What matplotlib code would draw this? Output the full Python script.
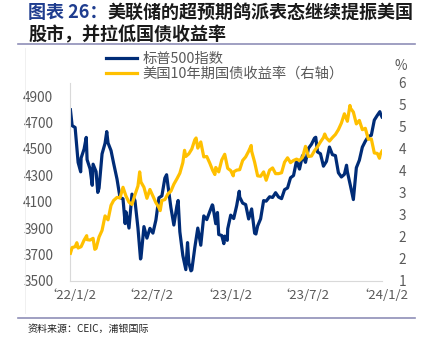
import math
import matplotlib
matplotlib.use("Agg")
import matplotlib.pyplot as plt
from matplotlib.lines import Line2D
from matplotlib.ticker import FixedLocator, FuncFormatter
import pandas as pd

plt.rcParams["font.family"] = ["Noto Sans CJK SC", "DejaVu Sans"]

# S&P 500 closes
spx_dates = [
    "2022-01-03", "2022-01-07", "2022-01-14", "2022-01-21", "2022-01-27", "2022-01-28",
    "2022-02-04", "2022-02-09", "2022-02-11", "2022-02-18", "2022-02-23", "2022-02-25",
    "2022-03-04", "2022-03-08", "2022-03-11", "2022-03-18", "2022-03-25", "2022-03-29",
    "2022-04-01", "2022-04-08", "2022-04-14", "2022-04-22", "2022-04-29", "2022-05-06",
    "2022-05-11", "2022-05-13", "2022-05-20", "2022-05-27", "2022-06-03", "2022-06-10",
    "2022-06-16", "2022-06-17", "2022-06-24", "2022-07-01", "2022-07-08", "2022-07-15",
    "2022-07-22", "2022-07-29", "2022-08-05", "2022-08-12", "2022-08-16", "2022-08-19",
    "2022-08-26", "2022-09-02", "2022-09-09", "2022-09-12", "2022-09-16", "2022-09-23",
    "2022-09-30", "2022-10-04", "2022-10-07", "2022-10-12", "2022-10-14", "2022-10-21",
    "2022-10-28", "2022-11-04", "2022-11-11", "2022-11-18", "2022-11-25", "2022-12-01",
    "2022-12-02", "2022-12-09", "2022-12-13", "2022-12-16", "2022-12-23", "2022-12-28",
    "2022-12-30", "2023-01-05", "2023-01-06", "2023-01-13", "2023-01-20", "2023-01-27",
    "2023-02-02", "2023-02-03", "2023-02-10", "2023-02-17", "2023-02-24", "2023-03-03",
    "2023-03-10", "2023-03-13", "2023-03-17", "2023-03-24", "2023-03-31", "2023-04-06",
    "2023-04-14", "2023-04-21", "2023-04-28", "2023-05-05", "2023-05-12", "2023-05-19",
    "2023-05-26", "2023-06-02", "2023-06-09", "2023-06-16", "2023-06-23", "2023-06-30",
    "2023-07-07", "2023-07-14", "2023-07-21", "2023-07-28", "2023-07-31", "2023-08-04",
    "2023-08-11", "2023-08-18", "2023-08-25", "2023-09-01", "2023-09-08", "2023-09-15",
    "2023-09-22", "2023-09-29", "2023-10-06", "2023-10-11", "2023-10-13", "2023-10-20",
    "2023-10-27", "2023-11-03", "2023-11-10", "2023-11-17", "2023-11-24", "2023-12-01",
    "2023-12-08", "2023-12-15", "2023-12-22", "2023-12-28", "2023-12-29", "2024-01-02",
]
spx_values = [
    4797, 4677, 4663, 4398, 4327, 4432,
    4500, 4588, 4419, 4349, 4225, 4385,
    4329, 4171, 4204, 4463, 4543, 4632,
    4546, 4488, 4393, 4272, 4132, 4123,
    3935, 4024, 3901, 4158, 4109, 3901,
    3667, 3675, 3912, 3825, 3899, 3863,
    3962, 4130, 4145, 4280, 4305, 4228,
    4058, 3924, 4067, 4110, 3873, 3693,
    3586, 3791, 3639, 3577, 3583, 3753,
    3901, 3771, 3993, 3965, 4026, 4077,
    4072, 3934, 4019, 3852, 3845, 3783,
    3840, 3808, 3895, 3999, 3973, 4071,
    4180, 4136, 4090, 4079, 3970, 4046,
    3862, 3856, 3917, 3971, 4109, 4105,
    4138, 4133, 4169, 4136, 4124, 4192,
    4205, 4282, 4299, 4410, 4348, 4450,
    4399, 4505, 4536, 4582, 4589, 4478,
    4464, 4370, 4406, 4515, 4457, 4450,
    4320, 4288, 4308, 4377, 4327, 4224,
    4117, 4358, 4415, 4514, 4559, 4595,
    4604, 4719, 4755, 4783, 4770, 4743,
]

# US 10-year Treasury yield, %
ust_dates = [
    "2022-01-03", "2022-01-07", "2022-01-14", "2022-01-18", "2022-01-21", "2022-01-28",
    "2022-02-04", "2022-02-10", "2022-02-11", "2022-02-18", "2022-02-25", "2022-03-01",
    "2022-03-04", "2022-03-11", "2022-03-18", "2022-03-25", "2022-04-01", "2022-04-08",
    "2022-04-14", "2022-04-22", "2022-04-29", "2022-05-06", "2022-05-13", "2022-05-20",
    "2022-05-27", "2022-06-03", "2022-06-10", "2022-06-14", "2022-06-17", "2022-06-24",
    "2022-07-01", "2022-07-08", "2022-07-15", "2022-07-22", "2022-07-29", "2022-08-01",
    "2022-08-05", "2022-08-12", "2022-08-19", "2022-08-26", "2022-09-02", "2022-09-09",
    "2022-09-16", "2022-09-23", "2022-09-27", "2022-09-30", "2022-10-07", "2022-10-14",
    "2022-10-21", "2022-10-24", "2022-10-28", "2022-11-04", "2022-11-11", "2022-11-18",
    "2022-11-25", "2022-12-02", "2022-12-07", "2022-12-09", "2022-12-16", "2022-12-23",
    "2022-12-30", "2023-01-06", "2023-01-13", "2023-01-19", "2023-01-20", "2023-01-27",
    "2023-02-03", "2023-02-10", "2023-02-17", "2023-02-24", "2023-03-02", "2023-03-03",
    "2023-03-10", "2023-03-17", "2023-03-24", "2023-03-31", "2023-04-06", "2023-04-14",
    "2023-04-21", "2023-04-28", "2023-05-05", "2023-05-12", "2023-05-19", "2023-05-26",
    "2023-06-02", "2023-06-09", "2023-06-16", "2023-06-23", "2023-06-30", "2023-07-07",
    "2023-07-14", "2023-07-21", "2023-07-28", "2023-08-04", "2023-08-11", "2023-08-18",
    "2023-08-21", "2023-08-25", "2023-09-01", "2023-09-08", "2023-09-15", "2023-09-22",
    "2023-09-29", "2023-10-06", "2023-10-13", "2023-10-19", "2023-10-20", "2023-10-27",
    "2023-11-03", "2023-11-10", "2023-11-17", "2023-11-24", "2023-12-01", "2023-12-08",
    "2023-12-15", "2023-12-22", "2023-12-27", "2023-12-29", "2024-01-02",
]
ust_values = [
    1.63, 1.76, 1.78, 1.87, 1.75, 1.78,
    1.93, 2.03, 1.94, 1.93, 1.97, 1.72,
    1.74, 2.00, 2.15, 2.48, 2.39, 2.72,
    2.83, 2.90, 2.89, 3.13, 2.93, 2.79,
    2.74, 2.96, 3.16, 3.48, 3.25, 3.13,
    2.88, 3.08, 2.93, 2.78, 2.67, 2.60,
    2.83, 2.85, 2.98, 3.04, 3.20, 3.32,
    3.45, 3.69, 3.97, 3.83, 3.89, 4.00,
    4.21, 4.25, 4.02, 4.16, 3.82, 3.83,
    3.68, 3.51, 3.42, 3.58, 3.48, 3.75,
    3.88, 3.56, 3.51, 3.39, 3.48, 3.52,
    3.53, 3.74, 3.82, 3.95, 4.08, 3.95,
    3.70, 3.39, 3.38, 3.48, 3.29, 3.52,
    3.57, 3.44, 3.44, 3.46, 3.70, 3.80,
    3.69, 3.74, 3.77, 3.74, 3.81, 4.06,
    3.83, 3.84, 3.96, 4.05, 4.16, 4.26,
    4.34, 4.25, 4.18, 4.26, 4.33, 4.44,
    4.59, 4.80, 4.63, 4.99, 4.93, 4.84,
    4.57, 4.65, 4.44, 4.47, 4.22, 4.23,
    3.91, 3.90, 3.79, 3.88, 3.95,
]

x_tick_dates = ["2022-01-02", "2022-07-02", "2023-01-02", "2023-07-02", "2024-01-02"]
x_tick_labels = ["‘22/1/2", "‘22/7/2", "‘23/1/2", "‘23/7/2", "‘24/1/2"]
left_ticks = [3500, 3700, 3900, 4100, 4300, 4500, 4700, 4900]
right_ticks = [1.0, 1.5, 2.0, 2.5, 3.0, 3.5, 4.0, 4.5, 5.0, 5.5]

series_names = ["标普500指数", "美国10年期国债收益率（右轴）"]
title_head = "图表 26："
title_line1 = "美联储的超预期鸽派表态继续提振美国"
title_line2 = "股市，并拉低国债收益率"
source_text = "资料来源：CEIC，浦银国际"

NAVY = "#002c77"
GOLD = "#ffc000"
GREY = "#595959"
RULE = "#8f8fb8"

W, H = 427, 343
fig = plt.figure(figsize=(W / 100, H / 100), dpi=100)

def fx(px):
    return px / W

def fy(py):
    return 1 - py / H

ax = fig.add_axes([fx(70), fy(281), fx(382) - fx(70), fy(83) - fy(281)])
ax2 = ax.twinx()

sd = pd.to_datetime(spx_dates)
ud = pd.to_datetime(ust_dates)
l1, = ax.plot(sd, spx_values, color=NAVY, lw=2.3, solid_joinstyle="round")
l2, = ax2.plot(ud, ust_values, color=GOLD, lw=2.3, solid_joinstyle="round")

ax.set_xlim(pd.Timestamp("2022-01-03"), pd.Timestamp("2024-01-02"))
ax.set_ylim(3500, 5000)
ax2.set_ylim(1.0, 5.5)

ax.set_xticks(pd.to_datetime(x_tick_dates))
ax.set_xticklabels(x_tick_labels)
ax.yaxis.set_major_locator(FixedLocator(left_ticks))
ax2.yaxis.set_major_locator(FixedLocator(right_ticks))
# right-axis labels rounded half-up to whole percent
ax2.yaxis.set_major_formatter(FuncFormatter(lambda v, p: str(int(math.floor(v + 0.5)))))

for a in (ax, ax2):
    for s in a.spines.values():
        s.set_visible(False)
    a.tick_params(length=0, labelsize=9.8, labelcolor=GREY)
ax.tick_params(axis="y", pad=12)
ax2.tick_params(axis="y", pad=12)
ax.tick_params(axis="x", pad=6, labelsize=9.5)
for side in ("left", "bottom"):
    ax.spines[side].set_visible(True)
    ax.spines[side].set_color("#d9d9d9")
    ax.spines[side].set_linewidth(0.8)
ax2.set_zorder(ax.get_zorder() + 1)
ax2.patch.set_visible(False)

fig.text(fx(395), fy(66), "%", fontsize=9.8, color=GREY, ha="left", va="center")

fig.legend([l1, l2], series_names, loc="upper left", bbox_to_anchor=(fx(106), fy(52)),
           frameon=False, fontsize=10.3, labelcolor=GREY, handlelength=2.2,
           handletextpad=0.35, labelspacing=0.05, borderaxespad=0, borderpad=0)

# title block
t = fig.text(fx(28), fy(12), title_head, fontsize=13, fontweight="bold", color="#1f3d8f",
             ha="left", va="center")
fig.canvas.draw()
bb = t.get_window_extent()
fig.text(bb.x1 / W, fy(12), title_line1, fontsize=13, fontweight="bold", color="#1a1a1a",
         ha="left", va="center")
fig.text(fx(28), fy(35), title_line2, fontsize=13, fontweight="bold", color="#1a1a1a",
         ha="left", va="center")

fig.add_artist(Line2D([fx(18), fx(415)], [fy(44), fy(44)], color=RULE, lw=1.2))
fig.add_artist(Line2D([fx(18), fx(415)], [fy(318), fy(318)], color=RULE, lw=1.2))
fig.add_artist(Line2D([fx(25), fx(25)], [fy(48), fy(313)], color="#eeeeee", lw=0.6))

fig.text(fx(28), fy(329), source_text, fontsize=7.2, color="#222222", ha="left", va="center")

fig.savefig("out.png", dpi=100)
